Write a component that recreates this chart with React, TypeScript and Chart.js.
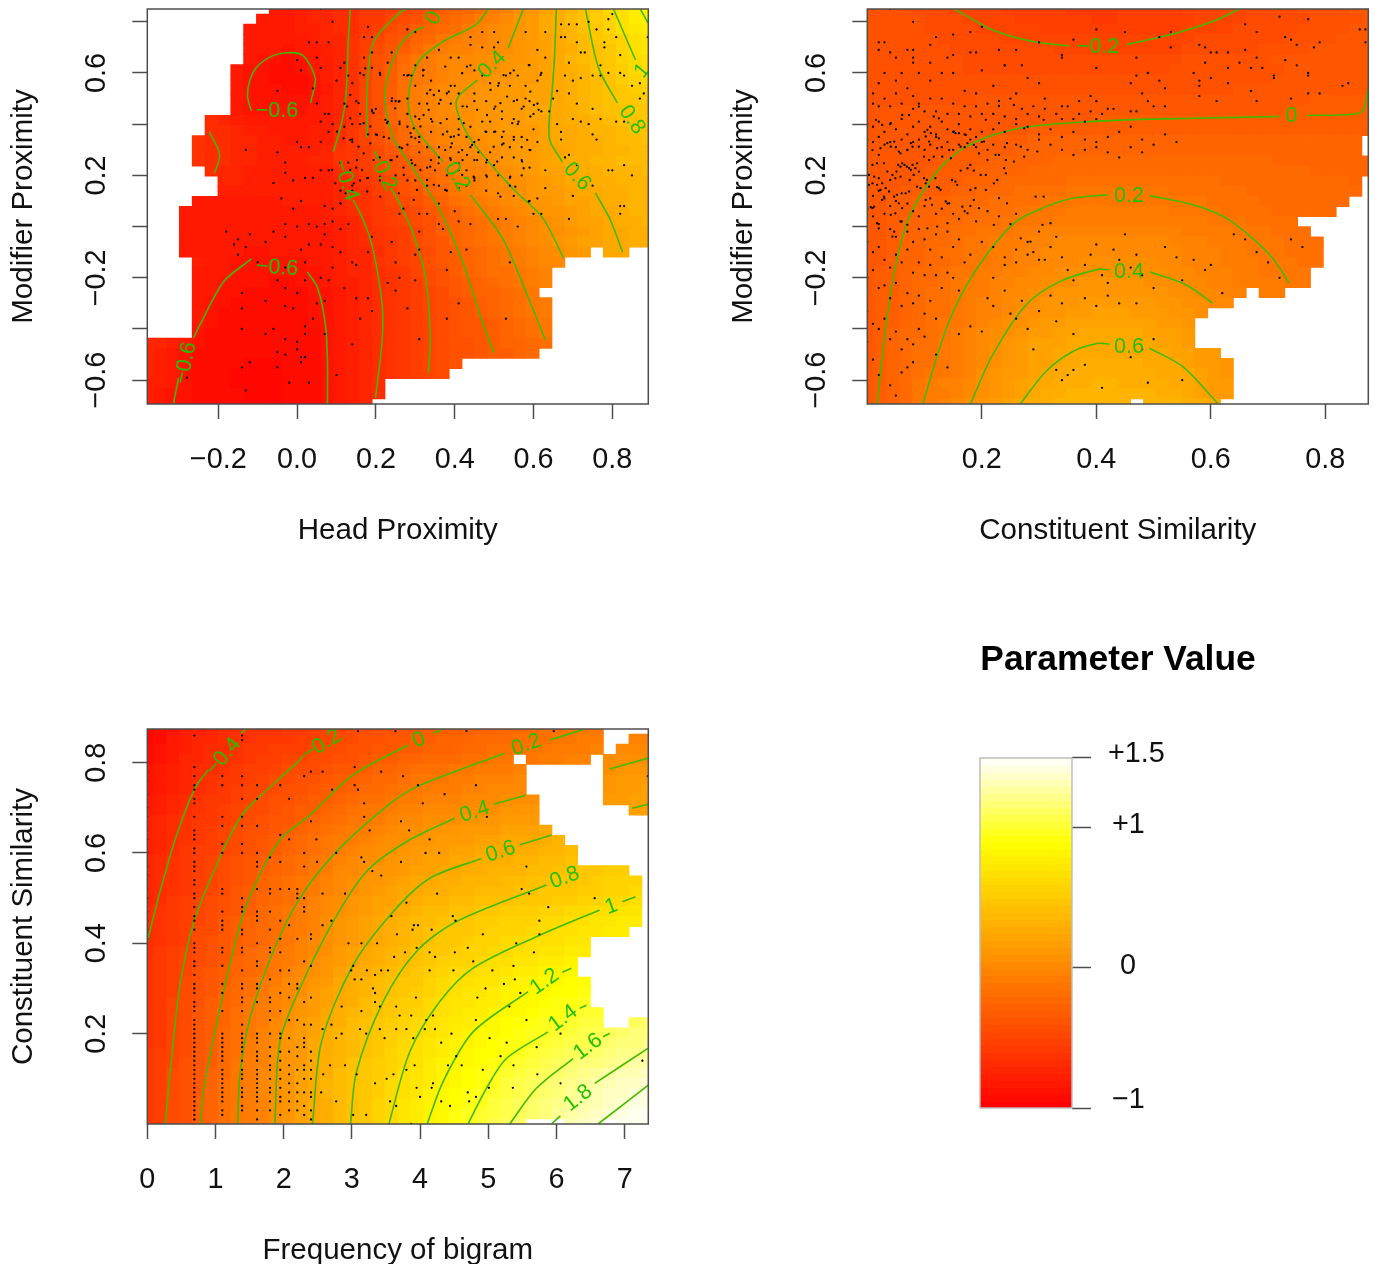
import { useEffect, useRef } from "react";
import { Chart, registerables } from "chart.js";
Chart.register(...registerables);

const FONT = "'Liberation Sans', Arial, sans-serif";
const LINE_GREEN = "#40ba00";
const TEXT_GREEN = "#22c000";
const ALPHABET = "0123456789abcdefghijklmnopqrstuvwxyzABCDEFGHIJKLMNOPQRSTUVWXYZ";
const LEVEL_BASE = -0.8;
const LEVEL_STEP = 0.05;

// Surface levels, top row first; "." is a cell with no data.
const gridHeadModifier = [
  ".......... 5567788aab cdeghijlmo prsuwxABDF",
  ".........5 5567788aac deghijlmnp qstvwyzBDE",
  "........55 5566788abd eghijlmnop qstuwxzBCD",
  "........55 5556779bce fhiklmmnop qrsuvxyzBC",
  "........55 5455679bdf giklmmnnop qrstvwxzBC",
  "........54 4345679cef iklmnnoopp qrsuvwxzAB",
  ".......544 3345679ceg jklmnnoopq qrstuwxyAB",
  ".......544 3334679ceg jklmnooppq qrstuvwyzA",
  ".......544 4334579ceg jlmnooppqq rrstuvwxyz",
  ".......544 4444679ceg jlmnooppqq rrstuvwxxy",
  ".......544 4445679ceh jlmnooppqq rsstuvwwxx",
  ".....87655 5555679ceh jlmnnoppqq rrsttuvwwx",
  ".....88766 555668aceg iklmnoppqq qrsstuuvww",
  "....988776 655668aceg ijlmnnoppq qrssttuvvw",
  "....988776 666679abdf gijlmnoopq qrrsttuuvv",
  "....988776 666779abde fhiklmnopq qrsttuuvvv",
  ".....87766 6666689bce fgijlmmnop qrrsttuuuv",
  "......7766 6666678abd eghjklmnoo pqrssttuuu",
  "......6666 66666789bc efhiklmnno pqqrssttuu",
  "....555555 56666789ac deghjklmno ppqrrsttuu",
  "...5555555 55556789ab cdfghjklmn oppqrsstuu",
  "...5555555 55556678ab cdeghijklm nopqrrsttu",
  "...5555555 555556789a bceghijklm noopqrsstt",
  "...5555555 555556789a bdefhijklm nopqrrsstt",
  "...5555544 555556778a bcdfghijkl mnopq.ss..",
  "....655444 444556779a bcefghijkl mnn.......",
  "....555444 4444567789 acdeghijjk lm........",
  "....554444 3344566789 abdefghijk lm........",
  "....554433 3334456789 abcdfghhij k.........",
  "....544333 3334456789 abcdefghij kl........",
  "....543333 3334456789 abcdefghij kl........",
  "....543333 3334456789 abcdeffghi jk........",
  "....433333 3333456789 abcdeffghi jk........",
  "7765433333 3333456789 abcdeefghh ij........",
  "7654333333 3333456789 abcdeefggh i.........",
  "7654333322 2333456789 abcde..... ..........",
  "7654333222 2333456789 abcd...... ..........",
  "6654333222 233345678. .......... ..........",
  "6544333322 233345678. .......... ..........",
  "6544333322 23334567.. .......... ..........",
];

const gridSimilarityModifier = [
  "eeeedddccc cbbbbbaaaa bbbbbccccc ddddeeeeff",
  "eeeeedddcc ccbbbbbbaa bbbbbbcccc dddddeeeef",
  "eeeeeddddc ccccbbbbbb bbbbbccccd ddddeeeeff",
  "eeeeeedddd dccccccccc ccccccdddd dddeeeefff",
  "eeeeeeeddd dddddccccc cccccddddd deeeefffff",
  "eeeeeeeedd dddddddddd dddddeeeee eeffffffff",
  "eeeeeeeedd dddddddddd ddddeeeeee eeefffffff",
  "eeeeeeeeee eeeeeeeeee eeeeeeeeee eeffffffff",
  "eeeeeeeeee eeeeeeeeee eeeeeeeeef ffffffffff",
  "eeeeeeeeef ffffffffff ffffffffff fffffggggg",
  "efffffffff ffffffffff ffffffffff fffggggggg",
  "efffffffff ffffffffgg gggggggggg gggggggggg",
  "efffffffff fffggggggg gggggggggg gggggggggg",
  "ffffffffgg ggghhhhhhh hhhhhhhhhh hhhhhhhhh.",
  "fffffffggg gghhhhhhhh hhhhhhhhhh hhhhhhhhh.",
  "ffffffgggg hhhhhiiiii iiiiiiiiii iihhhhhhhh",
  "fffffggggh hhhiiiiiii iiiiiiiiii iiiiihhhhh",
  "ffffgggghh hiiiiijjjj jjjjjjjjii iiiiiiiih.",
  "fffgggghhi iijjjjkkkk kkkkjjjjjj iiiiiiiii.",
  "ffgghhhiii jjjjkkkkkk kkkkkkkjjj jiiiiiii..",
  "ffgghhhiij jjkkkkllll llllkkkkjj jjiiiii...",
  "ffghhhiijj jkkkklllll lllllllkkk jjjj......",
  "ffghhiijjk kkllmmmmmm mmmmmllllk kkjjj.....",
  "ffghhiijkk lllmmnnnnn nnnnmmmlll kkkjjj....",
  "ffghhijjkk llmmnnnnnn nnnnnmmmll kkkjjj....",
  "ffghhiijkk llmmnnnooo ooonnmmmll lkkkjj....",
  "fgghiijkkl lmmnnooooo oooonnmmml lkkkk.....",
  "fgghiijkll mmnnoooppp ppooonnmml lllkk.....",
  "fgghijjkll mnnooppppp ppppoonnmm .ll.......",
  "fgghijjklm mnoopppqqq qqqppoonn. ..........",
  "fgghijjklm mnooppqqrr rqqqppo... ..........",
  "fgghijkklm noopqqrrrr rrrqqp.... ..........",
  "fghiijklmn oopqqrrsss ssrrrq.... ..........",
  "fghijjklmn opqrrrssss sssrrq.... ..........",
  "fghijjklmn opqrrsssss ssssrrqq.. ..........",
  "fghijjklmn opqrrssttt ttsssrqqp. ..........",
  "fghijkklmo pqqrsstttt tttsssrqp. ..........",
  "fghiklmmno pqrsstttuu ttttssrqq. ..........",
  "fghikllmno pqrsttuuuu uuuttsrqq. ..........",
  "fghiklmnop qrsttuuuuu u.uuutts.. ..........",
];

const gridFrequencySimilarity = [
  "23466788999aabccddeeffggghhhiiijjkkk....",
  "235677899aaabbcddeeffgghhhiiijjjkkll..mm",
  "34567889aabbbcddeeffgghhhiijjjkklllm.nnn",
  "34577899abbccddeefgghhiiijjkk.kllmm.oooo",
  "4567889abbcdddeffghhijjjkklllm......oppp",
  "456789aabcddeefgghiijkkkllmmmn......pqqq",
  "456789abccdeefgghiijkklllmmnnn......pqqr",
  "56789aabcdeefgghijjkllmmmnnnooo.....qqrr",
  "56789abcddefgghijkklmmnnnoooppp.......rr",
  "6789aabcdeffghijkklmnnooopppqqq.........",
  "6789abcdeefghijkllmnoopppqqqrrrs........",
  "6789abcdefghijkllmnooppqqqrrssstu.......",
  "678abbcdefghijklmnoopqqqrrsssttuuv......",
  "789abcdefghijklmnoopqqrrsstttuuvvw......",
  "789abcdefghijklnnoppqrrssttuuuvvwwxxyy..",
  "789abcdefhijklmnoppqrssttuuuvvwwxxxyzzz.",
  "789abcdfghijklmnopqrssttuuvvvwwxxxyyzzA.",
  "78abcdefghijkmnopqrrstuuvvwwwxxxyyzzAAB.",
  "89abcdefgijklmnopqrstuvvwwxxyyyzzAABBCC.",
  "89abcdfghijklmopqrstuvvwxxyyzzzAABBCCDD.",
  "89abddfghijklmopqrstuvwxxxyzzzAABBCCDD..",
  "89abdefghijkmnopqrstuvwxxyzzAABBBCC.....",
  "8abcdefgijklmnoqrstuvwxxyzzAABBCCDD.....",
  "9abcdefhijklmopqrstuvwxyzzABBCCDDE......",
  "9abcefghijkmnoprstuvwxyzAABBCDDEEF......",
  "9abdefgijklnopqstuvwxxzABBCCDEEFFGG.....",
  "9abdefhijkmnoqrstuvwxyzABCCDEEFFGGH.....",
  "9acdeghiklmnpqrstvwxyyABCCDDEFFGHHI.....",
  "9acdfghjklmopqstuvwxyzABCDDEFFGHHIJJ....",
  "9acdfghjklnoqrstvwxyzABCDDEFGGHIIJKK..MN",
  "9acdfgijkmnpqrtuvwxyzABCDEFFGHIIJKLLMNOO",
  "9acdfgijlmnpqstuvwxyABCDEEFGHHIJKLLMNOOP",
  "abcdfgijlmopqstuvwxzABCDEFGGHIJKLMMNOPPQ",
  "abcefgiklmopqstuwxyzABDEFFGHIJKLMNOOPQRR",
  "abdefhiklnoprstvwxyzBCDEFGHIJKLMNOPQRSST",
  "abdefhjklnoprsuvwxyABCDEFGHIKLMNOPQRSTTU",
  "abdefhjklnoprsuvwxyABCEFGHIJKLMNOQRSTTUV",
  "abdeghjklmoprstvwxzACDEFGHIKLMNOPQRSTUVV",
  "abdeghjklmoprstvwxzACDEFHIJKLMNOQRSTUVWW",
  "abdeghjklmoprstvwxzACDEFHIJLMN...STU.WWW",
];

// Contour lines, [x, y] pairs in data units.
const contoursHeadModifier = [
  [[-.116,.452],[-.126,.514],[-.111,.604],[-.073,.659],[-.025,.679],[.016,.667],[.046,.581],[.041,.526],[.034,.483]],
  [[-.223,.37],[-.202,.307],[-.197,.268],[-.21,.21]],
  [[-.314,-.693],[-.301,-.591]],
  [[-.263,-.435],[-.248,-.388],[-.187,-.216],[-.116,-.126]],
  [[.026,-.177],[.052,-.239],[.072,-.384],[.077,-.52],[.077,-.693]],
  [[.135,.85],[.13,.729],[.128,.643],[.123,.495],[.11,.385],[.092,.292]],
  [[.143,.104],[.173,.007],[.194,-.099],[.216,-.306],[.216,-.443],[.199,-.669]],
  [[.28,.85],[.262,.838],[.194,.721],[.178,.542],[.178,.347]],
  [[.237,.151],[.249,.124],[.293,-.021],[.326,-.2],[.338,-.435],[.333,-.571]],
  [[.321,.78],[.293,.76],[.262,.71],[.229,.581],[.224,.475],[.244,.346],[.262,.3],[.3,.214],[.359,.073],[.42,-.138],[.47,-.372],[.5,-.493]],
  [[.486,.85],[.453,.788],[.369,.721],[.308,.643],[.282,.503],[.295,.397],[.333,.319],[.371,.253]],
  [[.44,.124],[.521,-.044],[.587,-.279],[.63,-.443]],
  [[.574,.85],[.536,.698]],
  [[.458,.573],[.407,.503],[.407,.448],[.445,.331],[.546,.151],[.623,.034],[.676,-.122]],
  [[.658,.85],[.653,.651],[.648,.542],[.64,.346],[.673,.253]],
  [[.757,.132],[.795,.026],[.826,-.099]],
  [[.732,.85],[.765,.62],[.813,.483]],
  [[.803,.85],[.859,.651]],
  [[.871,.85],[.891,.795]],
];
const contoursSimilarityModifier = [
  [[.152,.85],[.219,.768],[.289,.723],[.353,.706]],
  [[.452,.71],[.539,.755],[.603,.801],[.65,.85]],
  [[.017,-.693],[.03,-.436],[.045,-.202],[.068,.007],[.097,.137],[.138,.254],[.19,.332],[.266,.384],[.347,.404],[.452,.417],[.569,.423],[.72,.43]],
  [[.767,.434],[.848,.439],[.866,.456],[.875,.54]],
  [[.097,-.693],[.132,-.436],[.161,-.28],[.208,-.111],[.26,.02],[.312,.078],[.359,.111],[.42,.124]],
  [[.493,.121],[.569,.085],[.627,.033],[.673,-.046],[.708,-.124],[.737,-.221]],
  [[.18,-.693],[.219,-.501],[.277,-.306],[.336,-.215],[.403,-.167],[.423,-.169]],
  [[.493,-.176],[.557,-.228],[.603,-.299]],
  [[.267,-.693],[.312,-.566],[.359,-.488],[.403,-.456],[.423,-.46]],
  [[.493,-.475],[.551,-.547],[.612,-.69]],
];
const contoursFrequencySimilarity = [
  [[1.373,.865],[1.446,.875]],
  [[.894,.784],[.699,.743],[.43,.64],[.186,.514],[0,.404]],
  [[2.286,.815],[2.188,.799],[1.612,.72],[1.383,.683],[1.104,.603],[.699,.455],[.479,.308],[.357,.145],[.259,0]],
  [[4.192,.865],[4.314,.872]],
  [[3.825,.839],[3.019,.773],[2.384,.684],[1.944,.629],[1.602,.537],[1.358,.441],[1.065,.256],[.821,.072],[.782,0]],
  [[5.9,.85],[6.39,.873]],
  [[5.242,.821],[3.972,.748],[3.532,.706],[2.775,.603],[2.237,.5],[1.847,.382],[1.505,.234],[1.358,.108],[1.324,0]],
  [[5.08,.708],[5.55,.728]],
  [[6.781,.786],[7.347,.81]],
  [[4.509,.677],[3.801,.625],[3.214,.559],[2.726,.448],[2.237,.3],[1.944,.182],[1.871,0]],
  [[5.462,.618],[5.93,.64]],
  [[7.113,.699],[7.347,.708]],
  [[4.9,.588],[4.143,.544],[3.605,.47],[3.019,.352],[2.555,.182],[2.423,0]],
  [[5.852,.529],[4.533,.448],[3.947,.382],[3.459,.271],[3.068,.116],[2.98,0]],
  [[6.966,.492],[7.162,.503]],
  [[6.634,.474],[5.755,.418],[4.778,.345],[4.289,.271],[3.85,.16],[3.542,0]],
  [[6.087,.336],[6.219,.345]],
  [[5.584,.293],[4.778,.204],[4.338,.094],[4.104,0]],
  [[6.341,.256],[6.439,.263]],
  [[5.877,.204],[5.266,.145],[4.973,.079],[4.704,0]],
  [[6.683,.193],[6.781,.201]],
  [[6.243,.145],[5.706,.079],[5.315,0]],
  [[7.347,.168],[6.561,.09]],
  [[6.058,.018],[5.926,0]],
  [[7.347,.086],[6.61,0]],
];

// Contour labels: text, x, y, rotation in degrees.
const labelsHeadModifier = [
  ["\u22120.6",-.051,.452,0],["\u22120.6",-.283,-.533,-78],["\u22120.6",-.051,-.161,4],["\u22120.4",.123,.182,72],
  ["\u22120.2",.216,.221,65],["0",.347,.814,-60],["0.2",.406,.195,58],["0.4",.495,.632,-45],["0.6",.711,.195,48],
  ["0.8",.85,.417,55],["1",.876,.608,-50],
];
const labelsSimilarityModifier = [
  ["\u22120.2",.403,.703,0],["0",.741,.43,0],["0.2",.457,.121,0],["0.4",.457,-.176,0],["0.6",.457,-.471,0],
];
const labelsFrequencySimilarity = [
  ["\u22120.4",1.114,.813,-50],["\u22120.2",2.555,.839,-32],["0",3.986,.85,-25],["0.2",5.559,.839,-20],
  ["0.4",4.802,.691,-18],["0.6",5.183,.603,-18],["0.8",6.121,.545,-20],["1",6.805,.481,-20],
  ["1.2",5.828,.315,-35],["1.4",6.097,.234,-37],["1.6",6.463,.171,-37],["1.8",6.317,.057,-38],
];

// Observations in hundredths: x,y,x,y,...
const dotsHeadModifier = [
  6,85,9,80,3,72,5,72,8,72,0,65,5,66,6,62,1,61,-5,53,4,54,5,48,12,64,11,62,13,59,14,56,10,57,18,78,17,74,19,74,19,68,17,66,19,62,16,60,21,60,23,64,24,68,7,44,8,44,12,48,15,49,16,44,19,45,20,46,14,40,12,39,9,40,6,41,8,37,6,33,14,34,14,33,16,40,18,36,20,36,22,35,23,41,25,49,24,49,0,33,1,31,3,31,-5,29,-3,25,-13,30,-3,21,-1,18,2,19,4,19,-6,17,6,22,8,22,11,25,13,25,15,23,18,19,21,18,21,27,24,26,14,16,11,14,16,18,7,8,9,7,11,9,14,14,-4,11,-1,7,1,10,-3,1,0,0,3,1,5,0,7,1,9,2,-6,-2,-3,-4,7,-3,11,-1,13,1,-18,-2,-15,-5,-12,-3,-8,-6,-16,-7,-13,-8,-15,-11,1,-9,3,-7,6,-7,9,-8,15,-15,11,-10,18,-10,19,-4,24,-6,-10,-14,2,-14,-3,-16,9,-16,14,-14,-5,-21,2,-21,6,-20,8,-21,12,-24,18,-28,23,-22,-3,-24,0,-26,-14,-26,-14,-32,-3,-31,-1,-32,5,-30,7,-29,15,-28,19,-33,-8,-29,4,-36,2,-39,-14,-40,-6,-40,-8,-42,-3,-44,0,-45,2,-42,7,-42,0,-48,-5,-49,-3,-50,-12,-53,-14,-55,1,-51,2,-51,1,-53,-5,-55,-2,-61,3,-61,10,-58,14,-46,16,-36,-13,-64,-28,-59,
  28,77,30,76,36,69,33,66,30,63,32,61,39,66,41,66,44,74,44,71,47,76,50,76,51,72,47,70,50,70,58,76,63,76,67,74,68,74,67,79,69,79,71,79,74,80,79,81,80,83,61,69,63,66,71,72,72,68,73,68,78,72,78,70,76,77,79,77,81,74,82,67,69,64,68,59,70,57,72,58,75,59,77,63,77,59,79,60,82,60,83,59,85,55,87,56,88,52,87,50,89,74,
  28,59,29,59,32,59,34,57,39,55,40,55,44,63,45,61,47,59,53,59,55,61,56,59,59,63,62,60,61,57,58,55,54,55,51,55,49,56,45,52,41,52,38,52,36,53,33,52,30,55,28,50,26,49,26,41,28,44,31,48,33,48,36,48,39,48,42,47,45,49,48,49,50,46,52,45,55,49,58,50,59,49,61,48,62,45,60,44,57,46,55,42,56,40,52,42,49,41,47,41,44,39,41,42,38,42,34,42,31,42,28,39,26,40,29,35,31,35,34,37,37,36,39,35,41,38,43,35,45,33,48,37,50,37,52,35,55,35,57,35,60,38,61,33,59,30,57,31,54,31,52,32,49,29,46,29,44,31,41,29,39,31,36,31,33,31,31,33,28,32,26,31,29,26,31,29,34,26,36,27,39,26,42,26,45,26,48,25,50,24,52,27,55,27,57,26,59,23,63,22,57,20,54,19,51,20,48,20,45,19,43,22,41,22,38,20,35,22,33,23,30,24,27,23,25,20,28,18,30,18,33,16,36,16,38,14,41,15,43,16,45,18,48,14,51,13,54,16,55,12,59,10,61,11,63,15,60,5,62,5,56,0,53,3,51,3,44,1,41,2,40,6,36,1,36,9,33,5,31,5,27,7,26,5,37,-1,31,-2,31,-9,30,-11,25,-14,26,-20,30,-21,38,-17,39,-10,43,-9,41,-30,38,-36,28,-32,31,-44,25,-25,53,-36,54,-14,66,40,67,37,70,42,72,41,74,40,75,36,77,42,67,34,69,28,68,27,71,24,70,12,75,16,76,34,79,22,80,22,83,24,85,20,82,8,83,8,82,5,69,3,65,50,66,53,69,52,71,48,64,45,75,46,83,41,81,41,
];
// Dense-area observations in thousandths.
const dotsHeadModifierDense = [
  338,534,347,514,385,527,364,495,334,456,321,436,300,430,296,384,288,365,300,345,313,391,343,410,364,404,381,371,398,352,410,358,393,325,376,299,419,299,444,319,423,404,431,469,457,456,482,436,503,469,516,482,533,508,558,495,575,469,601,475,613,456,592,430,562,410,546,404,524,371,503,371,478,371,461,339,499,312,524,325,550,339,584,339,592,299,571,254,575,228,541,195,508,254,482,260,457,260,431,280,410,247,389,267,359,247,338,234,313,221,292,247,266,306,254,273,233,345,203,358,186,325,156,312,135,339,118,345,101,371,194,443,190,456,156,482,127,469,135,423,169,404,186,391,224,417,228,404,241,501,258,488,249,462,211,592,169,592,173,618,135,514,271,592,283,592,321,612,376,625,419,599,431,625,524,592,541,599,588,631,618,592,491,534,512,560,592,527,
  152,260,165,221,178,189,144,169,123,130,110,91,169,286,194,260,211,195,237,260,271,202,304,143,330,182,347,163,376,143,448,195,482,195,516,117,554,156,588,98,419,202,178,137,211,117,258,130,296,104,89,221,97,169,135,221,
];
const dotsSimilarityModifier = [
  4,85,8,80,12,74,11,71,15,75,20,78,18,76,2,72,3,72,2,69,4,68,7,69,8,69,8,66,5,66,11,64,15,67,14,66,18,68,19,68,23,69,26,69,30,72,27,63,24,63,34,67,34,66,36,73,40,62,40,77,45,76,51,74,53,76,53,70,47,66,58,71,59,70,60,68,61,68,63,68,66,69,68,66,66,79,68,76,72,82,77,81,73,74,74,73,75,71,78,70,79,72,86,77,87,77,87,72,59,64,63,62,65,64,67,62,69,62,73,65,75,63,77,60,77,59,71,59,71,58,63,56,60,58,58,57,58,55,57,60,79,52,77,52,84,56,83,55,74,50,68,49,67,53,61,49,58,51,
  49,60,47,59,46,56,48,52,51,57,52,54,49,49,50,47,46,45,47,45,52,47,42,46,40,49,39,51,37,49,34,47,31,50,30,56,28,58,26,52,24,63,22,55,20,61,19,52,17,53,15,60,13,60,11,57,9,60,8,64,6,60,5,57,3,60,2,56,1,52,3,50,5,52,7,54,8,51,9,48,11,50,13,50,15,48,17,47,19,47,21,48,23,49,25,50,27,46,29,47,31,46,33,44,35,47,37,44,39,45,41,44,43,46,1,48,2,47,4,47,6,48,8,46,10,45,12,45,14,44,16,44,18,43,20,44,22,44,24,43,26,42,28,44,30,43,34,42,36,42,38,41,40,42,
  0,40,1,39,2,41,3,37,4,40,5,38,6,42,7,36,8,39,9,41,10,37,11,39,12,36,13,41,14,38,15,37,16,40,17,36,18,38,19,35,20,37,22,38,24,37,26,40,28,39,30,36,32,38,34,35,36,37,38,34,40,33,42,35,44,37,46,39,48,34,50,32,52,36,54,33,0,34,1,33,2,35,3,32,4,33,5,31,6,34,7,30,8,33,9,34,10,30,11,32,12,35,13,31,14,33,15,30,16,32,17,31,18,34,19,31,20,33,21,30,22,32,24,31,26,32,28,30,30,34,32,32,34,30,36,28,38,30,40,31,42,29,44,27,46,31,48,29,
  1,12,2,14,3,11,4,8,5,10,6,13,7,9,8,6,9,4,10,8,11,11,12,5,13,7,14,9,15,5,16,3,17,6,18,8,19,2,21,6,23,4,25,1,26,5,0,7,1,4,2,1,3,5,4,-1,5,-4,6,2,7,-2,8,-6,9,-1,10,-5,11,-9,12,-3,13,-12,14,-2,15,-8,16,-5,18,-11,20,-6,22,-8,24,-12,26,-14,28,-11,30,-13,0,-6,1,-10,2,-8,3,-13,4,-16,5,-11,6,-14,7,-9,8,-18,9,-14,10,-19,11,-15,12,-19,13,-24,14,-18,15,-20,16,-25,17,-14,0,-20,1,-17,2,-24,3,-23,4,-28,5,-22,6,-31,7,-26,8,-30,9,-27,10,-34,11,-29,12,-36,0,-33,1,-38,2,-40,3,-36,4,-44,5,-41,6,-48,7,-44,8,-46,9,-40,10,-43,12,-50,14,-55,16,-42,18,-39,20,-41,0,-45,1,-52,2,-58,4,-62,5,-66,6,-57,7,-55,8,-53,
  22,-20,24,-15,26,-9,28,-6,29,-10,30,-2,31,-13,32,-8,33,-4,34,-12,35,-17,36,-21,38,-15,39,-11,40,-7,41,-19,42,-22,43,-9,44,-13,45,-3,46,-16,47,-11,48,-19,50,-24,52,-8,54,-12,55,-21,57,-13,59,-17,60,-15,62,-26,64,-3,66,-5,68,-10,70,-14,72,-20,74,-5,76,-8,
  21,-28,22,-31,24,-25,25,-34,26,-36,27,-29,28,-40,29,-48,30,-33,32,-27,33,-37,34,-30,36,-42,38,-28,40,-31,42,-27,44,-30,47,-30,46,-51,48,-48,50,-44,38,-54,36,-56,33,-56,35,-58,34,-60,41,-63,49,-61,55,-60,
];
const dotsSimilarityModifierDense = [
  61,247,65,241,69,234,73,228,76,221,58,234,54,241,79,241,84,228,87,247,51,215,44,202,35,215,40,182,49,189,58,195,74,182,81,202,90,215,99,189,104,182,119,189,125,150,128,143,122,154,148,182,154,176,163,219,175,228,186,219,198,202,207,202,221,169,227,182,239,228,242,208,26,169,32,150,23,143,38,137,29,117,17,163,9,169,3,163,12,78,9,72,6,76,26,104,47,117,52,124,67,130,73,137,87,156,93,150,102,169,108,156,55,91,61,72,41,46,49,52,58,20,70,7,17,13,20,-7,44,-39,47,-20,
  26,397,41,404,15,417,61,436,73,436,90,469,116,430,125,423,105,378,111,365,125,345,102,352,76,326,79,312,55,293,58,286,35,326,41,312,47,332,23,306,20,280,9,299,90,312,108,332,122,306,131,273,151,371,160,365,172,358,154,365,186,319,204,332,224,280,230,280,244,326,268,312,297,293,274,273,256,254,242,260,195,286,210,260,180,241,163,312,175,326,207,417,230,404,230,471,256,475,274,384,308,417,146,267,143,299,70,299,99,273,108,260,116,273,9,241,17,247,29,247,3,202,12,195,20,189,
  166,78,175,52,195,72,180,143,189,150,207,143,157,163,186,104,143,91,137,98,113,85,102,104,230,111,244,91,294,117,308,117,122,0,105,-7,140,13,221,7,285,-59,268,-46,306,7,320,13,
];
const stripeX = [0, .69, 1.1, 1.39, 1.61, 1.8, 1.95, 2.08, 2.2, 2.3, 2.4];
const stripeY = [
  [.78,.76,.73,.7,.68,.65,.63,.6,.57,.55,.52,.5,.47,.45,.43,.41],
  [.86,.79,.77,.75,.74,.72,.71,.68,.65,.64,.63,.61,.6,.58,.57,.56,.54,.53,.51,.5,.48,.46,.45,.43,.4,.39,.38,.36,.35,.33,.31,.3,.29,.27,.26,.25,.23,.22,.21,.2,.19,.18,.17,.16,.15,.14,.13,.12,.11,.1,.09,.08,.07,.06,.05,.04,.03,.02,.01],
  [.77,.75,.68,.66,.62,.6,.52,.51,.47,.45,.44,.43,.39,.38,.35,.31,.29,.25,.2,.19,.18,.17,.16,.15,.14,.12,.11,.1,.09,.08,.07,.06,.05,.03,.02],
  [.86,.85,.77,.75,.72,.68,.66,.62,.6,.5,.48,.47,.43,.42,.39,.38,.34,.31,.3,.28,.27,.25,.22,.2,.19,.18,.17,.16,.14,.12,.11,.1,.08,.07,.06,.04,.03],
  [.75,.72,.66,.6,.58,.57,.52,.47,.46,.45,.4,.36,.35,.31,.3,.27,.2,.19,.18,.16,.15,.14,.12,.11,.1,.09,.08,.07,.06,.05,.03,.01],
  [.59,.52,.51,.47,.43,.39,.38,.32,.28,.27,.25,.23,.2,.17,.15,.13,.12,.1,.08,.07,.05,.03],
  [.75,.64,.58,.52,.45,.41,.38,.34,.29,.25,.2,.19,.16,.14,.12,.1,.08,.06,.05,.02],
  [.72,.63,.52,.44,.34,.31,.28,.23,.19,.16,.13,.11,.09,.07,.05,.03],
  [.52,.51,.5,.41,.31,.3,.23,.17,.15,.12,.09,.07,.05,.03],
  [.77,.6,.57,.5,.48,.47,.36,.27,.22,.19,.18,.17,.13,.12,.1,.07,.04,.02],
  [.78,.67,.42,.41,.35,.28,.22,.16,.14,.12,.1,.07,.06,.03,.01],
];
const dotsFrequencySimilarity = [
  2.57,.78,2.48,.63,2.77,.6,2.49,.58,2.57,.51,2.9,.51,2.7,.45,2.57,.44,3.04,.79,3.04,.75,3.09,.74,2.71,.74,3.43,.78,3.75,.77,3.18,.71,3.18,.68,3.26,.65,3.14,.59,3.18,.58,3.3,.56,3.43,.55,3.72,.67,3.72,.58,3.84,.65,4.04,.71,3.97,.75,4.36,.73,4.82,.75,4.98,.68,4.14,.63,4.08,.6,4.28,.6,4.25,.51,3.8,.49,3.58,.46,2.95,.4,3.14,.4,3.37,.4,3.66,.42,3.89,.43,3.91,.44,3.97,.44,4.17,.43,4.48,.46,4.52,.45,4.92,.42,5.49,.52,5.6,.51,5.56,.57,5.88,.48,6.56,.5,5.75,.45,5.75,.42,5.41,.4,4.7,.39,5.67,.38,4.51,.38,4.14,.38,4.22,.37,3.95,.39,3.78,.38,3.62,.37,3.02,.35,2.99,.34,3.22,.34,3.34,.33,3.43,.34,3.53,.34,4.14,.34,4.49,.34,4.78,.36,5.37,.35,5.06,.34,5.23,.31,5.39,.32,5.47,.29,4.96,.3,4.84,.28,3.04,.32,3.14,.32,3.31,.3,3.34,.29,3.94,.28,2.85,.26,3.14,.25,3.34,.27,3.41,.26,3.65,.26,3.7,.24,3.87,.24,4.19,.24,4.09,.23,5.31,.26,4.82,.23,5.56,.23,2.7,.22,2.57,.21,2.77,.19,2.85,.2,3.12,.21,3.21,.2,3.41,.21,3.65,.21,3.8,.21,4.07,.21,4.22,.21,3.9,.19,3.48,.19,4.31,.18,4.46,.2,5.02,.19,5.27,.18,6.06,.2,5.71,.17,5.18,.15,4.53,.15,4.41,.13,4.61,.13,5.37,.13,4.92,.12,5.72,.11,6.06,.09,7.26,.14,5.36,.08,5.01,.08,4.82,.06,4.7,.07,4.72,.05,4.19,.09,4.17,.08,3.95,.08,3.8,.12,3.92,.13,3.61,.11,3.51,.1,3.34,.09,3.07,.11,2.9,.13,2.68,.13,2.58,.11,4.31,.05,4.44,.04,4,.06,3.56,.05,3.65,.04,3.87,0,3.21,.02,3.02,.02,2.77,.05,2.55,.07,7.34,.77,3.09,.87,3.64,.87,4.68,.87,5.96,.87,
];

const proximityYTicks = [-.6, -.4, -.2, 0, .2, .4, .6, .8];
const proximityYLabels = ["\u22120.6", "", "\u22120.2", "", "0.2", "", "0.6", ""];
const headXTicks = [-.2, 0, .2, .4, .6, .8];
const headXLabels = ["\u22120.2", "0.0", "0.2", "0.4", "0.6", "0.8"];
const similarityXTicks = [.2, .4, .6, .8];
const similarityXLabels = ["0.2", "0.4", "0.6", "0.8"];
const frequencyXTicks = [0, 1, 2, 3, 4, 5, 6, 7];
const frequencyXLabels = ["0", "1", "2", "3", "4", "5", "6", "7"];
const similarityYTicks = [.2, .4, .6, .8];
const similarityYLabels = ["0.2", "0.4", "0.6", "0.8"];
const legendTicks = [-1, 0, 1, 1.5];
const legendLabels = ["\u22121", "0", "+1", "+1.5"];
const legendLabelDx = [40, 48, 40, 36];
const legendLabelDy = [-8, -2, -3, -4];
const legendBreaks = [-1,-.95,-.9,-.85,-.8,-.75,-.7,-.65,-.6,-.55,-.5,-.45,-.4,-.35,-.3,-.25,-.2,-.15,-.1,-.05,0,.05,.1,.15,.2,.25,.3,.35,.4,.45,.5,.55,.6,.65,.7,.75,.8,.85,.9,.95,1,1.05,1.1,1.15,1.2,1.25,1.3,1.35,1.4,1.45,1.5];

const clamp = (v: number) => Math.max(0, Math.min(255, Math.round(v)));
const heatColor = (v: number) => `rgb(255,${clamp((255 * (v + 0.75)) / 2.05)},${clamp((255 * (v - 1.3)) / 0.85)})`;
const legendColor = (v: number) => `rgb(255,${clamp((255 * (v + 1)) / 1.9)},${clamp((255 * (v - 0.9)) / 0.6)})`;

const PLOT_LEFT = 147.3;
const PLOT_WIDTH = 501;
const PLOT_TOP = 9;
const PLOT_HEIGHT = 395;
const X_AXIS_HEIGHT = 145;
const CANVAS_WIDTH = 655;

function pairs(flat: number[], div: number) {
  const out = [];
  for (let i = 0; i + 1 < flat.length; i += 2) out.push({ x: flat[i] / div, y: flat[i + 1] / div });
  return out;
}

function heatDataset(rows: string[], xMin: number, xMax: number, yMin: number, yMax: number) {
  const n = 39;
  const dx = (xMax - xMin) / n;
  const dy = (yMax - yMin) / n;
  const data: any[] = [];
  const colors: string[] = [];
  rows.forEach((spaced, r) => {
    const row = spaced.replace(/ /g, "");
    for (let k = 0; k < row.length; k++) {
      const idx = ALPHABET.indexOf(row[k]);
      if (idx < 0) continue;
      const yc = yMax - r * dy;
      data.push({ x: xMin + k * dx, y: [yc - dy / 2, yc + dy / 2] });
      colors.push(heatColor(LEVEL_BASE + idx * LEVEL_STEP));
    }
  });
  return {
    type: "bar",
    data,
    backgroundColor: colors,
    borderWidth: 0,
    inflateAmount: 0.4,
    barThickness: PLOT_WIDTH / n,
    order: 3,
  };
}

function axis(pos: string, min: number, max: number, ticks: number[], labels: string[], title: string, padding: number) {
  const isY = pos === "left";
  return {
    type: "linear",
    position: pos,
    min,
    max,
    offset: false,
    afterBuildTicks: (s: any) => {
      s.ticks = ticks.map((value) => ({ value }));
    },
    afterFit: (s: any) => {
      if (isY) s.width = PLOT_LEFT;
      else s.height = X_AXIS_HEIGHT;
      s.paddingLeft = s.paddingRight = s.paddingTop = s.paddingBottom = 0;
    },
    border: { display: false },
    grid: { display: true, offset: false, drawOnChartArea: false, drawTicks: true, tickLength: 15, tickWidth: 1.5, color: "#4d4d4d" },
    ticks: {
      autoSkip: false,
      padding,
      color: "#111",
      font: { family: FONT, size: 28.8 },
      callback: (_v: any, i: number) => labels[i],
      ...(isY ? { minRotation: 90, maxRotation: 90, crossAlign: "center" } : { maxRotation: 0 }),
    },
    title: {
      display: true,
      text: title,
      color: "#111",
      font: { family: FONT, size: 29.5 },
      padding: { top: 6.3, bottom: 0 },
    },
  };
}

function framePlugin(labels: any[], frameColor = "#4d4d4d") {
  return {
    id: "frameAndLabels",
    afterDatasetsDraw(chart: any) {
      const { ctx, chartArea: a, scales } = chart;
      ctx.save();
      ctx.beginPath();
      ctx.rect(a.left, a.top, a.right - a.left, a.bottom - a.top);
      ctx.clip();
      ctx.font = `21.5px ${FONT}`;
      ctx.fillStyle = TEXT_GREEN;
      ctx.textAlign = "center";
      ctx.textBaseline = "middle";
      for (const [text, x, y, rot] of labels) {
        ctx.save();
        ctx.translate(scales.x.getPixelForValue(x), scales.y.getPixelForValue(y));
        ctx.rotate((rot * Math.PI) / 180);
        ctx.fillText(text, 0, 0);
        ctx.restore();
      }
      ctx.restore();
      ctx.save();
      ctx.strokeStyle = frameColor;
      ctx.lineWidth = 1.5;
      ctx.strokeRect(a.left, a.top, a.right - a.left, a.bottom - a.top);
      ctx.restore();
    },
  };
}

function Panel(props: any) {
  const ref = useRef<HTMLCanvasElement>(null);
  useEffect(() => {
    const { rows, contours, labels, dots, xMin, xMax, yMin, yMax, xTicks, xLabels, yTicks, yLabels, xTitle, yTitle, yPad } = props;
    const lineSets = contours.map((pts: number[][]) => ({
      type: "scatter",
      data: pts.map(([x, y]) => ({ x, y })),
      showLine: true,
      tension: 0.3,
      borderColor: LINE_GREEN,
      borderWidth: 1.6,
      pointRadius: 0,
      order: 2,
    }));
    const chart = new Chart(ref.current as any, {
      type: "scatter",
      data: {
        datasets: [
          heatDataset(rows, xMin, xMax, yMin, yMax),
          ...lineSets,
          { type: "scatter", data: dots, pointRadius: 1.15, pointBorderWidth: 0, backgroundColor: "#000", order: 1 },
        ],
      } as any,
      options: {
        responsive: false,
        animation: false,
        events: [],
        layout: { padding: { top: PLOT_TOP, right: CANVAS_WIDTH - PLOT_LEFT - PLOT_WIDTH, left: 0, bottom: 0 } },
        plugins: { legend: { display: false }, tooltip: { enabled: false } },
        scales: {
          x: axis("bottom", xMin, xMax, xTicks, xLabels, xTitle, 24),
          y: axis("left", yMin, yMax, yTicks, yLabels, yTitle, yPad),
        },
      } as any,
      plugins: [framePlugin(labels)],
    });
    return () => chart.destroy();
  }, []);
  return (
    <canvas
      ref={ref}
      width={CANVAS_WIDTH}
      height={PLOT_TOP + PLOT_HEIGHT + X_AXIS_HEIGHT}
      style={{ position: "absolute", left: props.left, top: props.top }}
    />
  );
}

const legendLabelPlugin = {
  id: "legendLabels",
  afterDraw(chart: any) {
    const { ctx, chartArea: a, scales } = chart;
    ctx.save();
    ctx.font = `28.8px ${FONT}`;
    ctx.fillStyle = "#111";
    ctx.textAlign = "left";
    ctx.textBaseline = "middle";
    legendTicks.forEach((v, i) => {
      ctx.fillText(legendLabels[i], a.right + legendLabelDx[i], scales.y.getPixelForValue(v) + legendLabelDy[i]);
    });
    ctx.restore();
  },
};

function LegendBar() {
  const ref = useRef<HTMLCanvasElement>(null);
  useEffect(() => {
    const data = legendBreaks.slice(0, -1).map((lo, i) => ({ x: 0, y: [lo - 0.004, legendBreaks[i + 1]] }));
    const chart = new Chart(ref.current as any, {
      type: "scatter",
      data: {
        datasets: [
          {
            type: "bar",
            data,
            backgroundColor: legendBreaks.slice(0, -1).map((lo) => legendColor(lo + 0.025)),
            borderWidth: 0,
            inflateAmount: 0.4,
            barThickness: 92,
          },
        ],
      } as any,
      options: {
        responsive: false,
        animation: false,
        events: [],
        layout: { padding: { left: 100, right: 0, top: 0, bottom: 22 } },
        plugins: {
          legend: { display: false },
          tooltip: { enabled: false },
          title: {
            display: true,
            text: "Parameter Value",
            color: "#000",
            font: { family: FONT, size: 35.4, weight: "bold" },
            padding: { top: 8.8, bottom: 76.7 },
          },
        },
        scales: {
          x: { type: "linear", min: -0.5, max: 0.5, display: false, offset: false },
          y: {
            type: "linear",
            position: "right",
            min: -1,
            max: 1.5,
            afterBuildTicks: (s: any) => {
              s.ticks = legendTicks.map((value) => ({ value }));
            },
            afterFit: (s: any) => {
              s.width = 184;
              s.paddingTop = s.paddingBottom = 0;
            },
            border: { display: false },
            grid: { display: true, drawOnChartArea: false, drawTicks: true, tickLength: 19, tickWidth: 1.5, color: "#4d4d4d" },
            ticks: { autoSkip: false, display: true, color: "rgba(0,0,0,0)", font: { family: FONT, size: 1 } },
          },
        },
      } as any,
      plugins: [framePlugin([], "#bdbdbd"), legendLabelPlugin],
    });
    return () => chart.destroy();
  }, []);
  return <canvas ref={ref} width={376} height={500} style={{ position: "absolute", left: 880, top: 630 }} />;
}

const stripeDots = stripeX.flatMap((x, i) => stripeY[i].map((y) => ({ x, y })));

export default function App() {
  return (
    <div style={{ position: "absolute", left: 0, top: 0, width: 1375, height: 1264, background: "#fff", overflow: "hidden" }}>
      <Panel
        left={0} top={0}
        rows={gridHeadModifier} contours={contoursHeadModifier} labels={labelsHeadModifier}
        dots={[...pairs(dotsHeadModifier, 100), ...pairs(dotsHeadModifierDense, 1000)]}
        xMin={-0.3802} xMax={0.8914} yMin={-0.693} yMax={0.85}
        xTicks={headXTicks} xLabels={headXLabels} yTicks={proximityYTicks} yLabels={proximityYLabels}
        xTitle="Head Proximity" yTitle="Modifier Proximity" yPad={6.6}
      />
      <Panel
        left={720} top={0}
        rows={gridSimilarityModifier} contours={contoursSimilarityModifier} labels={labelsSimilarityModifier}
        dots={[...pairs(dotsSimilarityModifier, 100), ...pairs(dotsSimilarityModifierDense, 1000)]}
        xMin={0} xMax={0.875} yMin={-0.693} yMax={0.85}
        xTicks={similarityXTicks} xLabels={similarityXLabels} yTicks={proximityYTicks} yLabels={proximityYLabels}
        xTitle="Constituent Similarity" yTitle="Modifier Proximity" yPad={6.6}
      />
      <Panel
        left={0} top={720}
        rows={gridFrequencySimilarity} contours={contoursFrequencySimilarity} labels={labelsFrequencySimilarity}
        dots={[...pairs(dotsFrequencySimilarity, 1), ...stripeDots]}
        xMin={0} xMax={7.347} yMin={0} yMax={0.8745}
        xTicks={frequencyXTicks} xLabels={frequencyXLabels} yTicks={similarityYTicks} yLabels={similarityYLabels}
        xTitle="Frequency of bigram" yTitle="Constituent Similarity" yPad={14.8}
      />
      <LegendBar />
    </div>
  );
}
